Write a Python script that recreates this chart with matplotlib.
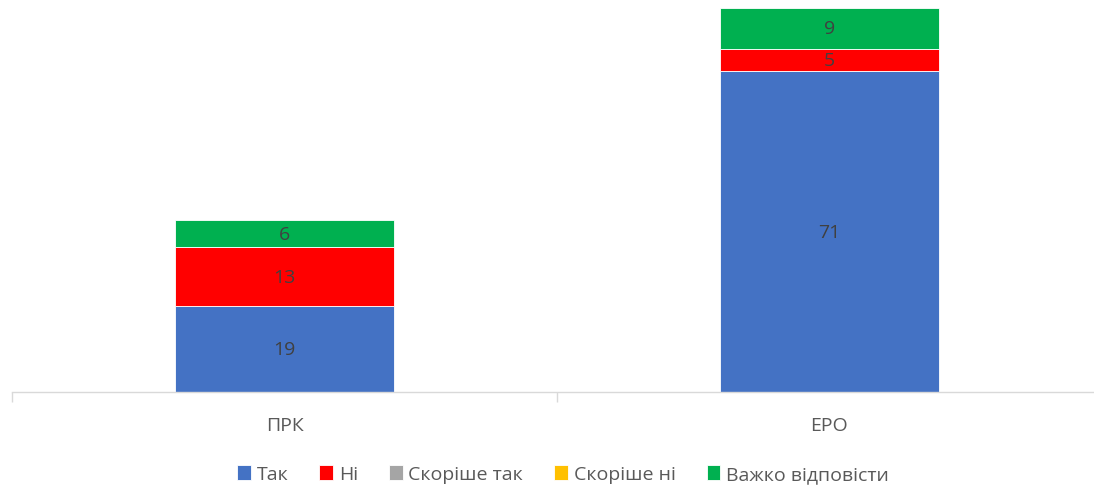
import matplotlib.pyplot as plt
import numpy as np

plt.rcParams['font.family'] = ['Open Sans', 'DejaVu Sans']

categories = ['ПРК', 'ЕРО']
series_names = ['Так', 'Ні', 'Скоріше так', 'Скоріше ні', 'Важко відповісти']
tak = [19, 71]
ni = [13, 5]
skorishe_tak = [0, 0]
skorishe_ni = [0, 0]
vazhko = [6, 9]

colors = ['#4472C4', '#FF0000', '#A5A5A5', '#FFC000', '#00B050']
series = [tak, ni, skorishe_tak, skorishe_ni, vazhko]

fig = plt.figure(figsize=(10.94, 4.89), dpi=100)
ax = fig.add_axes([12 / 1094, 96 / 489, 1090 / 1094, 393 / 489])

x = np.arange(len(categories))
bottom = np.zeros(len(categories))
for name, vals, c in zip(series_names, series, colors):
    vals = np.array(vals, dtype=float)
    bars = ax.bar(x, vals, width=0.402, bottom=bottom, color=c, label=name,
                  edgecolor='white', linewidth=0.6)
    for xi, b, v in zip(x, bottom, vals):
        if v > 0:
            ax.text(xi, b + v / 2, f'{v:g}', ha='center', va='center',
                    fontsize=14, color='#404040')
    bottom += vals

ax.set_xlim(-0.5, 1.5)
ax.set_ylim(0, 87)
ax.set_yticks([])
for s in ['top', 'right', 'left']:
    ax.spines[s].set_visible(False)
ax.spines['bottom'].set_color('#d9d9d9')
ax.spines['bottom'].set_linewidth(1)

ax.set_xticks(x)
ax.set_xticklabels(categories, fontsize=14, color='#595959')
ax.tick_params(axis='x', length=0, pad=17)
ax.set_xticks([-0.5, 0.5, 1.5], minor=True)
ax.tick_params(axis='x', which='minor', length=7, color='#d9d9d9', width=1)

ax.legend(loc='center', bbox_to_anchor=(563 / 1094, 14 / 489),
          bbox_transform=fig.transFigure, ncol=5, frameon=False,
          fontsize=14, handlelength=0.7, handleheight=0.8,
          handletextpad=0.3, columnspacing=1.6, labelcolor='#595959')

fig.savefig('out.png', dpi=100)
